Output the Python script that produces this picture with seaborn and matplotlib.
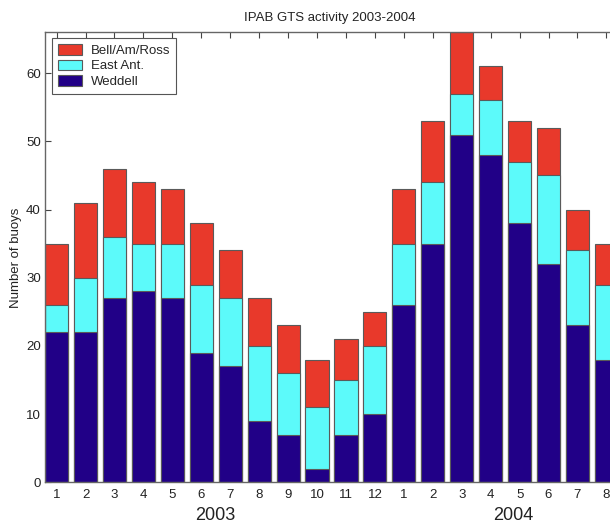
import numpy as np
import pandas as pd
import seaborn as sns
import matplotlib
matplotlib.use('Agg')
import matplotlib.pyplot as plt

# months Jan 2003 .. Aug 2004
months = ['1', '2', '3', '4', '5', '6', '7', '8', '9', '10', '11', '12',
          '1', '2', '3', '4', '5', '6', '7', '8']
weddell = [22, 22, 27, 28, 27, 19, 17, 9, 7, 2, 7, 10,
           26, 35, 51, 48, 38, 32, 23, 18]
east_ant = [4, 8, 9, 7, 8, 10, 10, 11, 9, 9, 8, 10,
            9, 9, 6, 8, 9, 13, 11, 11]
bell_am_ross = [9, 11, 10, 9, 8, 9, 7, 7, 7, 7, 6, 5,
                8, 9, 9, 5, 6, 7, 6, 6]
years = ['2003', '2004']

df = pd.DataFrame({'idx': np.arange(len(months)), 'month': months,
                   'Weddell': weddell, 'East Ant.': east_ant,
                   'Bell/Am/Ross': bell_am_ross})
df['cum_east'] = df['Weddell'] + df['East Ant.']
df['total'] = df['cum_east'] + df['Bell/Am/Ross']

sns.set_style('white')
plt.rcParams['font.family'] = ['Liberation Sans', 'DejaVu Sans']

fig = plt.figure(figsize=(6.1, 5.27), dpi=100)
ax = fig.add_axes([45/610, 44.7/527, 573/610, 450/527])

edge = '#5a5a5a'
# stacked bars drawn from the top layer down
sns.barplot(data=df, x='idx', y='total', color='#E8392B', saturation=1,
            edgecolor=edge, linewidth=0.8, label='Bell/Am/Ross', ax=ax)
sns.barplot(data=df, x='idx', y='cum_east', color='#5CFAFA', saturation=1,
            edgecolor=edge, linewidth=0.8, label='East Ant.', ax=ax)
sns.barplot(data=df, x='idx', y='Weddell', color='#210087', saturation=1,
            edgecolor=edge, linewidth=0.8, label='Weddell', ax=ax)

ax.set_xlim(-0.4, 19.4)
ax.set_ylim(0, 66)
ax.set_yticks(range(0, 61, 10))
ax.set_xticks(df['idx'])
ax.set_xticklabels(months)
ax.set_xlabel('')
ax.set_ylabel('')

for s in ['left', 'top', 'bottom']:
    ax.spines[s].set_color('#666666')
    ax.spines[s].set_linewidth(1.0)
ax.spines['right'].set_visible(False)

ax.tick_params(axis='x', direction='in', top=True, bottom=False, length=4,
               color='#444444', labelsize=9.5, pad=5, labelcolor='#222222')
ax.tick_params(axis='y', direction='in', left=True, length=4,
               color='#444444', labelsize=9.5, pad=3, labelcolor='#222222')

leg = ax.legend(loc='upper left', bbox_to_anchor=(0.012, 0.987), borderaxespad=0,
                fontsize=9.5, fancybox=False, edgecolor='#555555', framealpha=1,
                handlelength=1.8, handleheight=0.85, labelspacing=0.2,
                handletextpad=0.7, borderpad=0.45)
leg.get_frame().set_linewidth(0.8)

fig.text(330/610, 1 - 17.5/527, 'IPAB GTS activity 2003-2004', ha='center',
         va='center', fontsize=9.5, color='#222222')
fig.text(16/610, 1 - 257.5/527, 'Number of buoys', rotation=90, ha='center',
         va='center', fontsize=9.5, color='#222222')
fig.text(215/610, 1 - 516/527, years[0], ha='center', va='center',
         fontsize=13, color='#222222')
fig.text(513/610, 1 - 516/527, years[1], ha='center', va='center',
         fontsize=13, color='#222222')

fig.savefig('out.png', dpi=100)
